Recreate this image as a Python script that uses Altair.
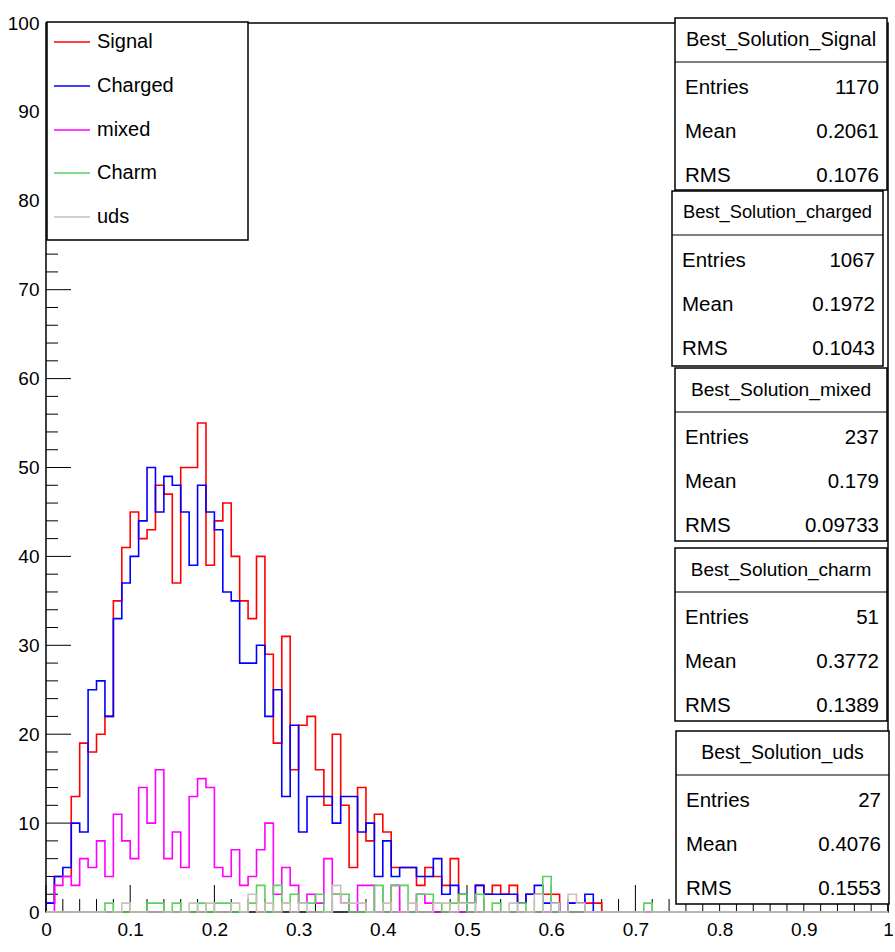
import altair as alt
import pandas as pd

# ---------------------------------------------------------------- data
# 100 bins of width 0.01 on [0, 1]; one count list per sample
signal = [
    1, 4, 4, 13, 19, 18, 20, 22, 35, 41,
    45, 42, 43, 48, 47, 37, 50, 50, 55, 39,
    44, 46, 40, 35, 33, 40, 29, 19, 31, 16,
    21, 22, 16, 12, 20, 12, 5, 14, 8, 11,
    9, 5, 5, 5, 3, 5, 4, 3, 6, 1,
    1, 3, 2, 3, 2, 3, 1, 2, 2, 2,
    2, 0, 1, 1, 1, 1, 0, 0, 0, 0,
    0, 0, 0, 0, 0, 0, 0, 0, 0, 0,
    0, 0, 0, 0, 0, 0, 0, 0, 0, 0,
    0, 0, 0, 0, 0, 0, 0, 0, 0, 0,
]
charged = [
    1, 4, 5, 10, 9, 25, 26, 22, 33, 37,
    40, 44, 50, 45, 49, 48, 45, 39, 48, 45,
    43, 36, 35, 28, 28, 30, 22, 25, 13, 21,
    9, 13, 13, 13, 10, 13, 13, 9, 10, 4,
    8, 4, 5, 5, 4, 4, 6, 2, 3, 2,
    1, 3, 2, 2, 2, 2, 1, 2, 3, 1,
    1, 0, 1, 1, 2, 0, 0, 0, 0, 0,
    0, 0, 0, 0, 0, 0, 0, 0, 0, 0,
    0, 0, 0, 0, 0, 0, 0, 0, 0, 0,
    0, 0, 0, 0, 0, 0, 0, 0, 0, 0,
]
mixed = [
    0, 3, 4, 3, 6, 5, 8, 4, 11, 8,
    6, 14, 10, 16, 6, 9, 5, 13, 15, 14,
    5, 4, 7, 3, 4, 7, 10, 2, 5, 3,
    1, 2, 1, 6, 2, 1, 0, 3, 3, 0,
    0, 3, 0, 0, 2, 1, 0, 0, 0, 0,
    0, 0, 0, 0, 0, 0, 0, 0, 0, 0,
    0, 0, 0, 0, 0, 0, 0, 0, 0, 0,
    0, 0, 0, 0, 0, 0, 0, 0, 0, 0,
    0, 0, 0, 0, 0, 0, 0, 0, 0, 0,
    0, 0, 0, 0, 0, 0, 0, 0, 0, 0,
]
charm = [
    0, 0, 0, 0, 0, 0, 0, 1, 0, 0,
    0, 0, 1, 1, 0, 1, 0, 0, 1, 0,
    1, 1, 0, 0, 1, 3, 0, 3, 1, 2,
    1, 1, 2, 0, 2, 2, 0, 0, 0, 3,
    0, 3, 3, 0, 2, 2, 1, 0, 1, 2,
    0, 2, 0, 1, 0, 0, 1, 0, 0, 4,
    0, 0, 0, 0, 0, 0, 0, 0, 0, 0,
    0, 1, 0, 0, 0, 0, 0, 0, 0, 0,
    0, 0, 0, 0, 0, 0, 0, 0, 0, 0,
    0, 0, 0, 0, 0, 0, 0, 0, 0, 0,
]
uds = [
    0, 0, 0, 0, 0, 0, 0, 0, 0, 1,
    0, 0, 0, 0, 0, 0, 0, 1, 0, 1,
    0, 0, 1, 0, 2, 0, 1, 0, 1, 0,
    1, 0, 0, 0, 3, 1, 1, 1, 0, 0,
    1, 0, 0, 1, 0, 0, 1, 1, 0, 1,
    1, 0, 0, 0, 0, 1, 0, 0, 2, 0,
    1, 0, 2, 1, 0, 0, 0, 0, 0, 0,
    0, 0, 0, 0, 0, 0, 0, 0, 0, 0,
    0, 0, 0, 0, 0, 0, 0, 0, 0, 0,
    0, 0, 0, 0, 0, 0, 0, 0, 0, 0,
]

legend_names = ["Signal", "Charged", "mixed", "Charm", "uds"]
series_colors = ["#ff0000", "#0000ff", "#ff00ff", "#5fcf5f", "#c9c1ba"]

stat_titles = ["Best_Solution_Signal", "Best_Solution_charged",
               "Best_Solution_mixed", "Best_Solution_charm",
               "Best_Solution_uds"]
stat_entries = ["1170", "1067", "237", "51", "27"]
stat_means = ["0.2061", "0.1972", "0.179", "0.3772", "0.4076"]
stat_rms = ["0.1076", "0.1043", "0.09733", "0.1389", "0.1553"]

x_tick_labels = [0, 0.1, 0.2, 0.3, 0.4, 0.5, 0.6, 0.7, 0.8, 0.9, 1]
y_tick_labels = [0, 10, 20, 30, 40, 50, 60, 70, 80, 90, 100]

# ---------------------------------------------------------------- layout
FONT = "Liberation Sans, Arial, Helvetica, sans-serif"
PLOT_W, PLOT_H = 842, 889
OX, OY = 46, 23            # plot-area origin inside the page
N_BINS, X_MAX, Y_MAX = 100, 1.0, 100

x_scale = alt.Scale(domain=[0, X_MAX], nice=False, zero=False)
y_scale = alt.Scale(domain=[0, Y_MAX], nice=False)

x_axis = alt.Axis(values=x_tick_labels, format="~g", title=None, grid=False,
                  domain=False, ticks=False, labelPadding=8, labelFont=FONT,
                  labelFontSize=19, labelColor="black", labelFlush=False)
y_axis = alt.Axis(values=y_tick_labels, format="d", title=None, grid=False,
                  domain=False, ticks=False, labelPadding=7, labelFont=FONT,
                  labelFontSize=19, labelColor="black")


def step_frame(counts):
    """Bin lower edges plus the closing edge, for a step-after outline."""
    edges = [i * X_MAX / N_BINS for i in range(N_BINS + 1)]
    return pd.DataFrame({"x": edges, "y": list(counts) + [counts[-1]]})


# ---------------------------------------------------------------- ticks (inside the frame)
major_x = [v / 10 for v in range(11)]
minor_x = [v / 50 for v in range(51) if v % 5]
major_y = list(range(0, 101, 10))
minor_y = [v for v in range(0, 101, 2) if v % 10]

tick_layers = [
    alt.Chart(pd.DataFrame({"v": major_x})).mark_rule(color="black", strokeWidth=1).encode(
        x=alt.X("v:Q", scale=x_scale, axis=x_axis),
        y=alt.value(PLOT_H), y2=alt.value(PLOT_H - 27)),
    alt.Chart(pd.DataFrame({"v": minor_x})).mark_rule(color="black", strokeWidth=1).encode(
        x=alt.X("v:Q", scale=x_scale, axis=x_axis),
        y=alt.value(PLOT_H), y2=alt.value(PLOT_H - 13)),
    alt.Chart(pd.DataFrame({"v": major_y})).mark_rule(color="black", strokeWidth=1).encode(
        y=alt.Y("v:Q", scale=y_scale, axis=y_axis),
        x=alt.value(0), x2=alt.value(25)),
    alt.Chart(pd.DataFrame({"v": minor_y})).mark_rule(color="black", strokeWidth=1).encode(
        y=alt.Y("v:Q", scale=y_scale, axis=y_axis),
        x=alt.value(0), x2=alt.value(12)),
]

# ---------------------------------------------------------------- histograms
hist_layers = []
for counts, col in zip([signal, charged, mixed, charm, uds], series_colors):
    hist_layers.append(
        alt.Chart(step_frame(counts)).mark_line(
            interpolate="step-after", color=col, strokeWidth=1.6
        ).encode(
            x=alt.X("x:Q", scale=x_scale, axis=x_axis),
            y=alt.Y("y:Q", scale=y_scale, axis=y_axis),
        )
    )

# ---------------------------------------------------------------- legend box
LEG_L, LEG_R, LEG_T, LEG_B = 47, 248, 22, 240
leg_row_y = [42, 86, 130, 173, 217]
legend_box = pd.DataFrame({"x0": [LEG_L - OX], "x1": [LEG_R - OX],
                           "y0": [LEG_T - OY], "y1": [LEG_B - OY]})
legend_rows = pd.DataFrame({
    "name": legend_names,
    "col": series_colors,
    "sx0": [54 - OX] * 5,
    "sx1": [90 - OX] * 5,
    "tx": [97 - OX] * 5,
    "ry": [v - OY for v in leg_row_y],
})

# ---------------------------------------------------------------- stat boxes
box_left = [675, 672, 675, 675, 676]
box_right = [887, 883, 887, 887, 889]
box_top = [18, 191, 368, 548, 731]
box_h = [172, 175, 173, 173, 173]
title_size = [20, 18.3, 19.2, 19, 19.5]
TITLE_H = 44

boxes = pd.DataFrame({
    "x0": [v - OX for v in box_left],
    "x1": [v - OX for v in box_right],
    "y0": [v - OY for v in box_top],
    "y1": [t + h - OY for t, h in zip(box_top, box_h)],
    "ysep": [t + TITLE_H - OY for t in box_top],
    "xc": [(l + r) / 2 - OX for l, r in zip(box_left, box_right)],
    "yt": [t + 22 - OY for t in box_top],
    "fs": title_size,
    "title": stat_titles,
})
row_recs = []
for i in range(5):
    for k, (lab, val) in enumerate(zip(["Entries", "Mean", "RMS"],
                                       [stat_entries[i], stat_means[i], stat_rms[i]])):
        row_recs.append({
            "lab": lab, "val": val,
            "xl": box_left[i] + 10 - OX,
            "xr": box_right[i] - 8 - OX,
            "yr": box_top[i] + 70 + 44 * k - OY,
        })
stat_rows = pd.DataFrame(row_recs)


def px(field):
    return alt.X(field, scale=None, axis=None)


def py(field):
    return alt.Y(field, scale=None, axis=None)


overlay_layers = [
    # legend
    alt.Chart(legend_box).mark_rect(fill="white", stroke="black", strokeWidth=1.5).encode(
        x=px("x0:Q"), x2="x1:Q", y=py("y0:Q"), y2="y1:Q"),
    alt.Chart(legend_rows).mark_rule(strokeWidth=1.6).encode(
        x=px("sx0:Q"), x2="sx1:Q", y=py("ry:Q"),
        color=alt.Color("col:N", scale=None)),
    alt.Chart(legend_rows).mark_text(align="left", baseline="middle", font=FONT,
                                     fontSize=20, color="black").encode(
        x=px("tx:Q"), y=py("ry:Q"), text="name:N"),
    # statistics boxes
    alt.Chart(boxes).mark_rect(fill="white", stroke="black", strokeWidth=1.5).encode(
        x=px("x0:Q"), x2="x1:Q", y=py("y0:Q"), y2="y1:Q"),
    alt.Chart(boxes).mark_rule(color="black", strokeWidth=1.2).encode(
        x=px("x0:Q"), x2="x1:Q", y=py("ysep:Q")),
    alt.Chart(boxes).mark_text(align="center", baseline="middle", font=FONT,
                               color="black").encode(
        x=px("xc:Q"), y=py("yt:Q"), text="title:N",
        size=alt.Size("fs:Q", scale=None)),
    alt.Chart(stat_rows).mark_text(align="left", baseline="middle", font=FONT,
                                   fontSize=20.5, color="black").encode(
        x=px("xl:Q"), y=py("yr:Q"), text="lab:N"),
    alt.Chart(stat_rows).mark_text(align="right", baseline="middle", font=FONT,
                                   fontSize=20.5, color="black").encode(
        x=px("xr:Q"), y=py("yr:Q"), text="val:N"),
]

chart = alt.layer(*tick_layers, *hist_layers, *overlay_layers).properties(
    width=PLOT_W,
    height=PLOT_H,
    padding={"left": OX, "top": OY, "right": 895 - OX - PLOT_W, "bottom": 952 - OY - PLOT_H},
    autosize=alt.AutoSizeParams(type="none"),
    background="white",
).configure_view(stroke="black", strokeWidth=1.5)

chart.save("out.html", embed_options={"renderer": "svg", "actions": False})
